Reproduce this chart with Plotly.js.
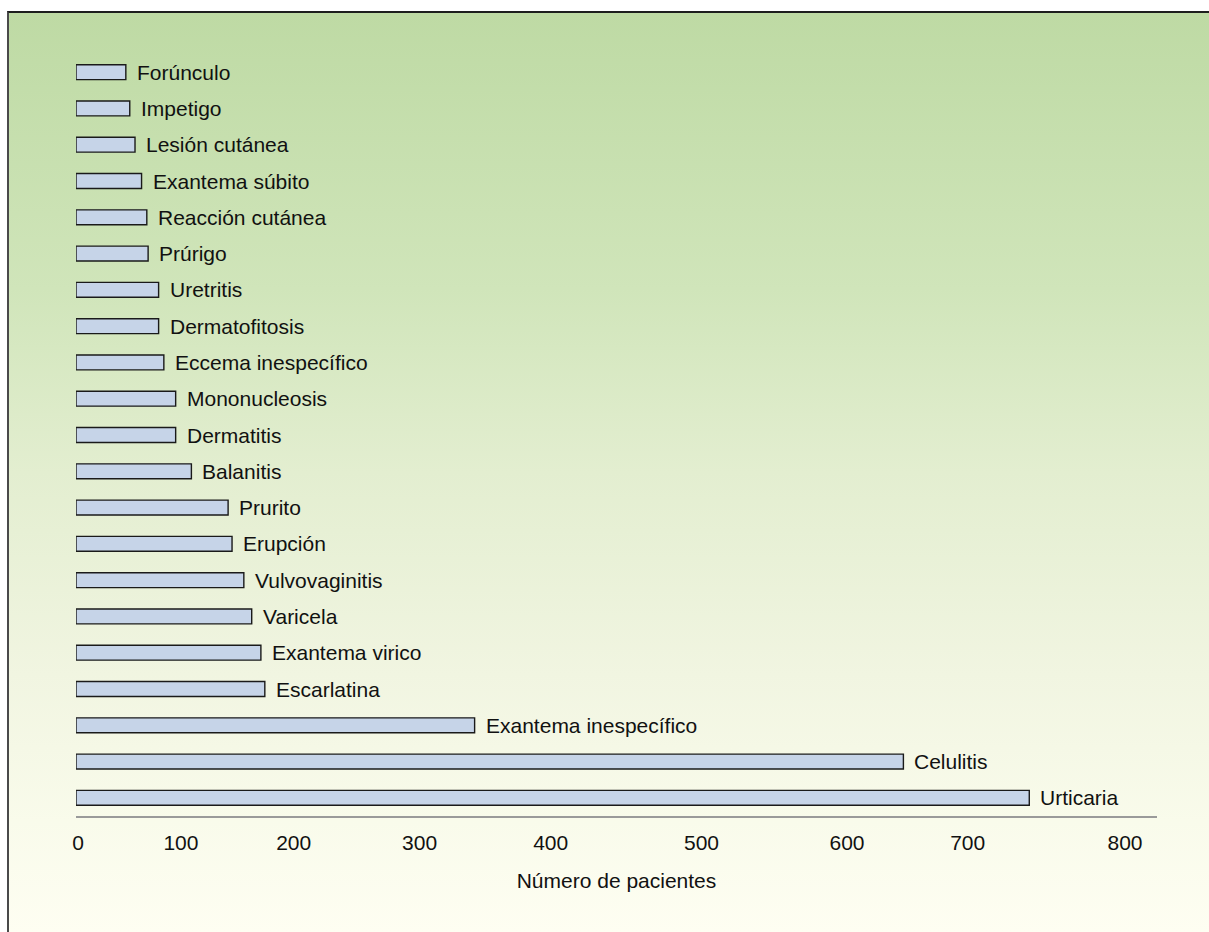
<!DOCTYPE html>
<html>
<head>
<meta charset="utf-8">
<script src="https://cdn.plot.ly/plotly-3.0.1.min.js"></script>
<style>
  html, body { margin: 0; padding: 0; background: #ffffff; }
  #bg {
    position: absolute; left: 7px; top: 11px; width: 1202px; height: 921px;
    border-top: 2px solid #1e1e1e; border-left: 2px solid #4a4a4a;
    box-sizing: border-box;
    background: linear-gradient(to bottom, #bedaa4 0%, #d0e5ba 30%, #e3eed0 50%, #f1f5e1 72%, #f9fbeb 88%, #fefef2 100%);
  }
  #chart { position: absolute; left: 0; top: 0; width: 1209px; height: 932px; }
</style>
</head>
<body>
<div id="bg"></div>
<div id="chart"></div>
<script>
// Categories, top to bottom
const categories = [
  "Forúnculo", "Impetigo", "Lesión cutánea", "Exantema súbito", "Reacción cutánea",
  "Prúrigo", "Uretritis", "Dermatofitosis", "Eccema inespecífico", "Mononucleosis",
  "Dermatitis", "Balanitis", "Prurito", "Erupción", "Vulvovaginitis", "Varicela",
  "Exantema virico", "Escarlatina", "Exantema inespecífico", "Celulitis", "Urticaria"
];
// Número de pacientes
const patients = [
  38, 41, 45, 50, 54,
  55, 63, 63, 67, 76,
  76, 88, 116, 119, 128, 134,
  141, 144, 304, 631, 727
];
// Axis tick labels, as printed in the figure
const tickLabels = ["0", "100", "200", "300", "400", "500", "600", "700", "800"];
const tickValues = [1.5, 80, 166, 262, 362, 477, 588, 680, 800];

const trace = {
  type: "bar",
  orientation: "h",
  x: patients,
  y: categories,
  width: 0.41,
  marker: { color: "#c6d4e8", line: { color: "#1a1a1a", width: 1.4 } },
  hoverinfo: "x+y"
};

const annotations = categories.map((c, i) => ({
  x: patients[i], y: c, xref: "x", yref: "y",
  text: c, showarrow: false, xanchor: "left", yanchor: "middle",
  xshift: 9,
  font: { family: "Liberation Sans, Arial, Helvetica, sans-serif", size: 21, color: "#111111" }
}));

const layout = {
  width: 1209, height: 932,
  paper_bgcolor: "rgba(0,0,0,0)",
  plot_bgcolor: "rgba(0,0,0,0)",
  margin: { l: 76, r: 52, t: 54, b: 116 },
  showlegend: false,
  font: { family: "Liberation Sans, Arial, Helvetica, sans-serif", size: 21, color: "#111111" },
  xaxis: {
    range: [0, 824.4],
    showgrid: false, zeroline: false,
    showline: true, linecolor: "#9a9a9a", linewidth: 1.5,
    ticks: "outside", ticklen: 7, tickcolor: "rgba(0,0,0,0)",
    tickmode: "array", tickvals: tickValues, ticktext: tickLabels,
    tickfont: { size: 21, color: "#111111" },
    title: { text: "Número de pacientes", font: { size: 21, color: "#111111" }, standoff: 20 },
    fixedrange: true
  },
  yaxis: {
    type: "category",
    autorange: false,
    range: [20.5, -0.5],
    showgrid: false, zeroline: false, showline: false,
    showticklabels: false, ticks: "",
    fixedrange: true
  },
  annotations: annotations
};

Plotly.newPlot("chart", [trace], layout, { displayModeBar: false, staticPlot: true });
</script>
</body>
</html>
